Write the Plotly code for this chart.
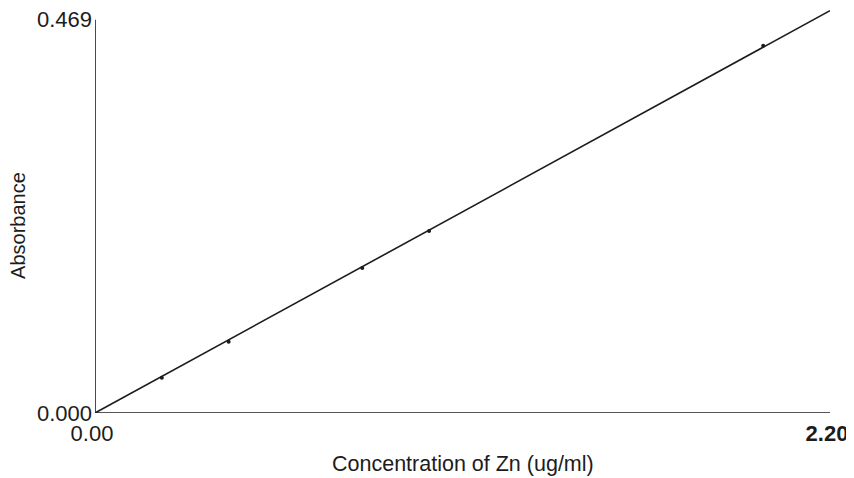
import plotly.graph_objects as go

# calibration standards
conc = [0.2, 0.4, 0.8, 1.0, 2.0]
absorb = [0.042, 0.085, 0.173, 0.217, 0.438]

x_ticks = [0.0, 2.2]
x_ticktext = ['0.00', '<b>2.20</b>']
y_ticks = [0.0, 0.469]
y_ticktext = ['0.000', '0.469']

# least squares line forced through the origin
slope = sum(x * y for x, y in zip(conc, absorb)) / sum(x * x for x in conc)
fit_x = [x_ticks[0], x_ticks[-1]]
fit_y = [slope * x for x in fit_x]

ink = '#1c1c1c'
font = 'Liberation Sans, Arial, sans-serif'

fig = go.Figure()
fig.add_trace(go.Scatter(x=fit_x, y=fit_y, mode='lines',
                         line=dict(color=ink, width=1.6), hoverinfo='skip'))
fig.add_trace(go.Scatter(x=conc, y=absorb, mode='markers',
                         marker=dict(color=ink, size=4, symbol='circle')))

# axis lines drawn as shapes so the y axis stops at its top tick
fig.add_shape(type='line', x0=x_ticks[0], x1=x_ticks[0], y0=y_ticks[0], y1=y_ticks[-1],
              xref='x', yref='y', line=dict(color=ink, width=1.6))
fig.add_shape(type='line', x0=x_ticks[0], x1=x_ticks[-1], y0=y_ticks[0], y1=y_ticks[0],
              xref='x', yref='y', line=dict(color=ink, width=1.6))

fig.add_annotation(text='Absorbance', textangle=-90, xref='paper', yref='paper',
                   x=-0.105, y=0.464, xanchor='center', yanchor='middle',
                   showarrow=False, font=dict(size=20, color=ink, family=font))
fig.add_annotation(text='Concentration of Zn (ug/ml)', xref='paper', yref='paper',
                   x=0.5, y=-0.125, xanchor='center', yanchor='middle',
                   showarrow=False, font=dict(size=21.5, color=ink, family=font))

# page body adds an 8px margin, so the figure is sized to fit inside the window
fig.update_layout(
    width=846, height=470,
    margin=dict(l=87, r=24, t=0, b=65),
    plot_bgcolor='white', paper_bgcolor='white',
    showlegend=False,
    font=dict(family=font, color=ink, size=22),
    xaxis=dict(range=[x_ticks[0], x_ticks[-1]], tickvals=x_ticks, ticktext=x_ticktext,
               showgrid=False, zeroline=False, showline=False, ticks='',
               automargin=False, ticklabelstandoff=5, ticklabelshift=-3,
               ticklabeloverflow='allow'),
    yaxis=dict(range=[0, 0.483], tickvals=y_ticks, ticktext=y_ticktext,
               showgrid=False, zeroline=False, showline=False, ticks='',
               automargin=False, ticklabelstandoff=2, ticklabeloverflow='allow'),
)

fig.write_html("out.html")
